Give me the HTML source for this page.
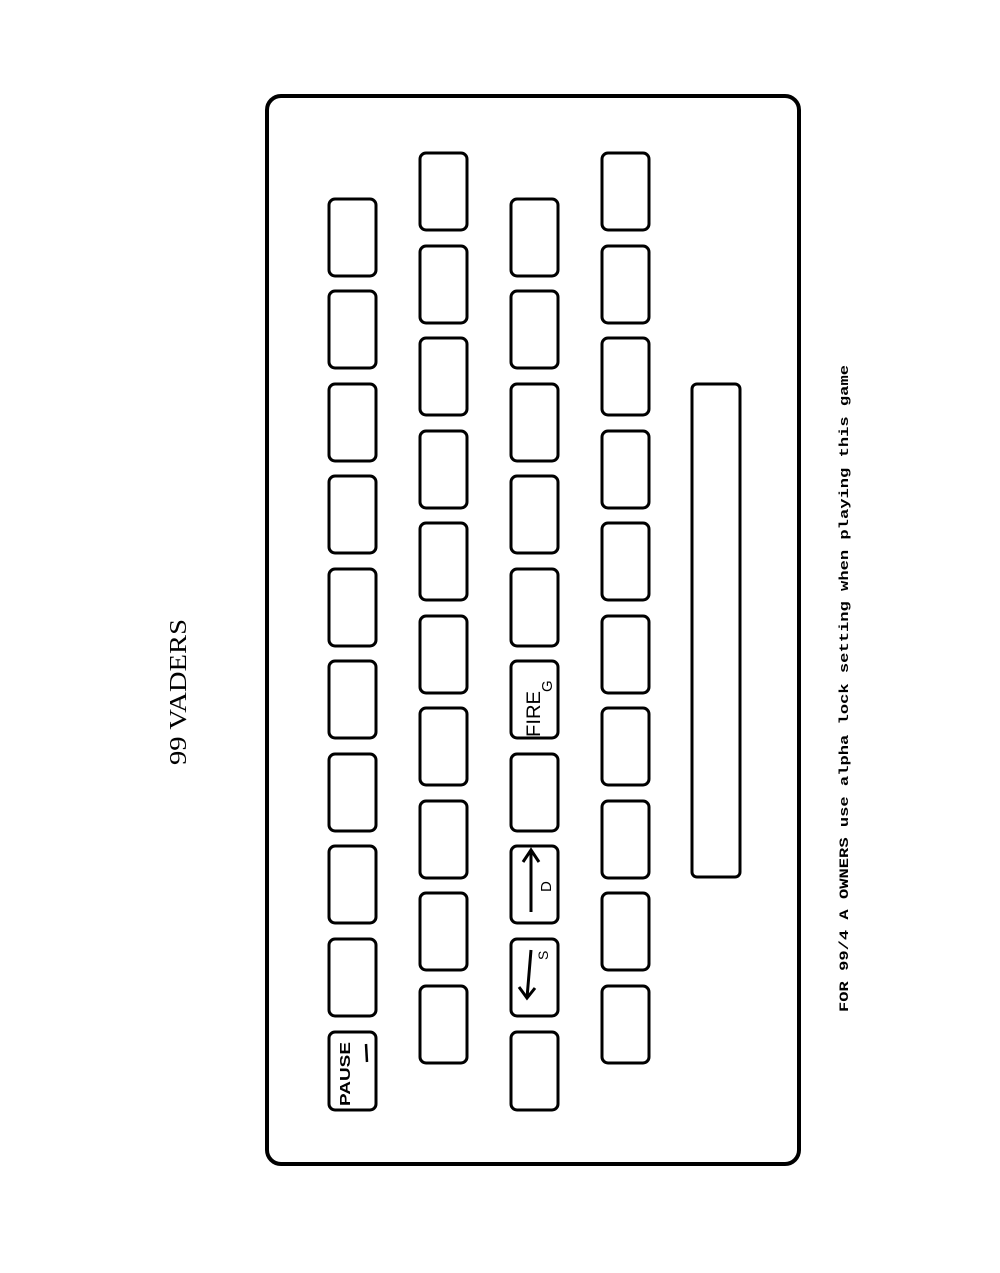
<!DOCTYPE html>
<html><head><meta charset="utf-8"><style>html,body{margin:0;padding:0;background:#fff}svg{display:block}</style></head>
<body>
<svg width="1000" height="1273" viewBox="0 0 1000 1273" xmlns="http://www.w3.org/2000/svg">
<rect x="267" y="96" width="532" height="1068" rx="14" fill="none" stroke="#000" stroke-width="4"/>
<g fill="none" stroke="#000" stroke-width="3">
<rect x="329" y="199" width="47" height="77" rx="6"/>
<rect x="329" y="291" width="47" height="77" rx="6"/>
<rect x="329" y="384" width="47" height="77" rx="6"/>
<rect x="329" y="476" width="47" height="77" rx="6"/>
<rect x="329" y="569" width="47" height="77" rx="6"/>
<rect x="329" y="661" width="47" height="77" rx="6"/>
<rect x="329" y="754" width="47" height="77" rx="6"/>
<rect x="329" y="846" width="47" height="77" rx="6"/>
<rect x="329" y="939" width="47" height="77" rx="6"/>
<rect x="329" y="1032" width="47" height="78" rx="6"/>
<rect x="420" y="153" width="47" height="77" rx="6"/>
<rect x="420" y="246" width="47" height="77" rx="6"/>
<rect x="420" y="338" width="47" height="77" rx="6"/>
<rect x="420" y="431" width="47" height="77" rx="6"/>
<rect x="420" y="523" width="47" height="77" rx="6"/>
<rect x="420" y="616" width="47" height="77" rx="6"/>
<rect x="420" y="708" width="47" height="77" rx="6"/>
<rect x="420" y="801" width="47" height="77" rx="6"/>
<rect x="420" y="893" width="47" height="77" rx="6"/>
<rect x="420" y="986" width="47" height="77" rx="6"/>
<rect x="511" y="199" width="47" height="77" rx="6"/>
<rect x="511" y="291" width="47" height="77" rx="6"/>
<rect x="511" y="384" width="47" height="77" rx="6"/>
<rect x="511" y="476" width="47" height="77" rx="6"/>
<rect x="511" y="569" width="47" height="77" rx="6"/>
<rect x="511" y="661" width="47" height="77" rx="6"/>
<rect x="511" y="754" width="47" height="77" rx="6"/>
<rect x="511" y="846" width="47" height="77" rx="6"/>
<rect x="511" y="939" width="47" height="77" rx="6"/>
<rect x="511" y="1032" width="47" height="78" rx="6"/>
<rect x="602" y="153" width="47" height="77" rx="6"/>
<rect x="602" y="246" width="47" height="77" rx="6"/>
<rect x="602" y="338" width="47" height="77" rx="6"/>
<rect x="602" y="431" width="47" height="77" rx="6"/>
<rect x="602" y="523" width="47" height="77" rx="6"/>
<rect x="602" y="616" width="47" height="77" rx="6"/>
<rect x="602" y="708" width="47" height="77" rx="6"/>
<rect x="602" y="801" width="47" height="77" rx="6"/>
<rect x="602" y="893" width="47" height="77" rx="6"/>
<rect x="602" y="986" width="47" height="77" rx="6"/>
<rect x="692" y="384" width="48" height="493" rx="5"/>
<line x1="531" y1="912" x2="531" y2="850"/>
<polyline points="523,862 531,850 539,862"/>
<line x1="531" y1="950" x2="527" y2="998"/>
<polyline points="519,987 527,998 535,988"/>
<line x1="366" y1="1044" x2="367" y2="1062" stroke-width="2.5"/>
</g>
<g font-family="Liberation Sans, sans-serif" fill="#000">
<text transform="translate(350,1106) rotate(-90)" font-size="15" font-weight="bold" textLength="64" lengthAdjust="spacingAndGlyphs">PAUSE</text>
<text transform="translate(540,737) rotate(-90)" font-size="19" textLength="46" lengthAdjust="spacingAndGlyphs">FIRE</text>
<text transform="translate(552,692) rotate(-90)" font-size="15">G</text>
<text transform="translate(551,892) rotate(-90)" font-size="15">D</text>
<text transform="translate(548,960) rotate(-90)" font-size="14">S</text>
</g>
<text transform="translate(186,765) rotate(-90)" font-family="Liberation Serif, serif" font-size="24" textLength="146" lengthAdjust="spacingAndGlyphs">99 VADERS</text>
<text transform="translate(848,1012) rotate(-90)" font-family="Liberation Mono, monospace" font-weight="bold" font-size="13" textLength="647" lengthAdjust="spacingAndGlyphs">FOR 99/4 A OWNERS use alpha lock setting when playing this game</text>
</svg>
</body></html>
